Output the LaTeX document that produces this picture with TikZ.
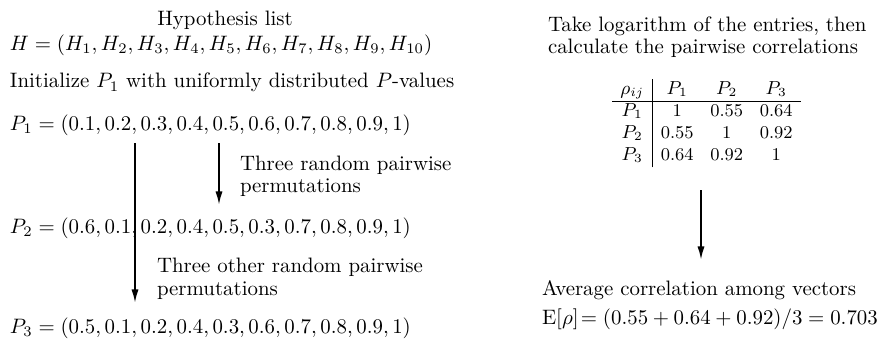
\documentclass[tikz,border=0pt]{standalone}
\usetikzlibrary{arrows.meta}
\begin{document}
\begin{tikzpicture}[x=0.479pt,y=-0.479pt,
  txt/.style={inner sep=0pt,outer sep=0pt,anchor=base west},
  arr/.style={line width=0.9pt,-{Latex[length=6.5pt,width=3.4pt]}}]
\useasboundingbox (0,0) rectangle (891,341);
% left column
\node[inner sep=0pt,anchor=base] (hl) at (225,25) {Hypothesis list};
\node[txt] (hv) at (10,50) {$H=(H_1,H_2,H_3,H_4,H_5,H_6,H_7,H_8,H_9,H_{10})$};
\node[txt] (init) at (10,88) {Initialize $P_1$ with uniformly distributed $P$-values};
\node[txt] (p1) at (10,130) {$P_1=(0.1,0.2,0.3,0.4,0.5,0.6,0.7,0.8,0.9,1)$};
\node[txt] (p2) at (10,233) {$P_2=(0.6,0.1,0.2,0.4,0.5,0.3,0.7,0.8,0.9,1)$};
\node[txt] (p3) at (10,333) {$P_3=(0.5,0.1,0.2,0.4,0.3,0.6,0.7,0.8,0.9,1)$};
\node[txt] (l1a) at (240,170) {Three random pairwise};
\node[txt] (l1b) at (240,192) {permutations};
\node[txt] (l2a) at (157,272) {Three other random pairwise};
\node[txt] (l2b) at (157,295) {permutations};
\coordinate (a1s) at (135,143);
\coordinate (a1e) at (135,303);
\coordinate (a2s) at (219,143);
\coordinate (a2e) at (219,205);
\draw[arr] (a1s) -- (a1e);
\draw[arr] (a2s) -- (a2e);
% right column
\node[txt] (tl1) at (548,31) {Take logarithm of the entries, then};
\node[txt] (tl2) at (548,53) {calculate the pairwise correlations};
\node[inner sep=0pt] (tab) at (706.5,123) {\fontsize{8.6}{10.5}\selectfont
  \renewcommand{\arraystretch}{1}%
  \setlength{\tabcolsep}{4pt}%
  \begin{tabular}{c|ccc}
  $\rho_{ij}$ & $P_1$ & $P_2$ & $P_3$\\ \hline
  $P_1$ & 1 & 0.55 & 0.64\\
  $P_2$ & 0.55 & 1 & 0.92\\
  $P_3$ & 0.64 & 0.92 & 1
  \end{tabular}};
\coordinate (a3s) at (701,190);
\coordinate (a3e) at (701,260);
\draw[arr] (a3s) -- (a3e);
\node[txt] (avg) at (542,295) {Average correlation among vectors};
\node[txt] (er) at (542,324) {$\mathrm{E}[\rho]\!=(0.55+0.64+0.92)/3=0.703$};
\end{tikzpicture}
\end{document}
